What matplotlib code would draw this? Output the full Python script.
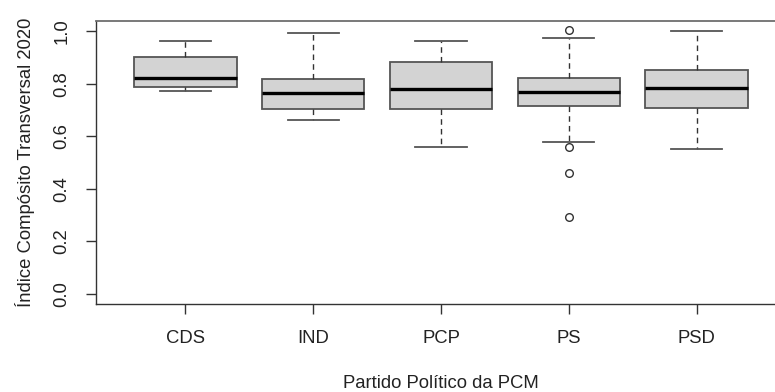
import matplotlib
matplotlib.use("Agg")
import matplotlib.pyplot as plt

plt.rcParams["font.family"] = ["Liberation Sans", "DejaVu Sans"]

# box statistics
parties = ["CDS", "IND", "PCP", "PS", "PSD"]
whisker_low = [0.775, 0.664, 0.561, 0.579, 0.552]
q1 = [0.788, 0.704, 0.704, 0.716, 0.709]
median = [0.823, 0.765, 0.780, 0.770, 0.784]
q3 = [0.904, 0.818, 0.882, 0.823, 0.855]
whisker_high = [0.962, 0.993, 0.962, 0.974, 1.000]
outliers = [[], [], [], [1.005, 0.561, 0.459, 0.294], []]

stats = []
for i, name in enumerate(parties):
    stats.append({
        "label": name,
        "whislo": whisker_low[i],
        "q1": q1[i],
        "med": median[i],
        "q3": q3[i],
        "whishi": whisker_high[i],
        "fliers": outliers[i],
    })

fig = plt.figure(figsize=(7.75, 3.92), dpi=100)
ax = fig.add_axes([96 / 775, (392 - 304.3) / 392, (786 - 96) / 775, (304.3 - 21) / 392])

edge = "#555555"
ax.bxp(
    stats,
    positions=range(1, len(parties) + 1),
    widths=0.8,
    patch_artist=True,
    boxprops=dict(facecolor="#d3d3d3", edgecolor=edge, linewidth=1.3),
    medianprops=dict(color="black", linewidth=2.4, solid_capstyle="butt"),
    whiskerprops=dict(color="#333333", linewidth=1.0, linestyle=(0, (4, 3))),
    capprops=dict(color=edge, linewidth=1.3),
    capwidths=0.4,
    flierprops=dict(marker="o", markersize=5.5, markerfacecolor="white",
                    markeredgecolor="#333333", markeredgewidth=1.0),
)

ax.set_xlim(0.3, 5.7)
ax.set_ylim(-0.04, 1.04)
ax.set_yticks([0.0, 0.2, 0.4, 0.6, 0.8, 1.0])
ax.set_yticklabels(["0.0", "0.2", "0.4", "0.6", "0.8", "1.0"], rotation=90, va="center")
ax.set_xticks(range(1, len(parties) + 1))
ax.set_xticklabels(parties)

ax.tick_params(axis="both", direction="out", length=7.5, width=1.0, color="#333333",
               labelsize=13.3, labelcolor="#222222")
ax.tick_params(axis="y", pad=11)
ax.tick_params(axis="x", pad=11)

for side in ["left", "bottom"]:
    ax.spines[side].set_color("#333333")
    ax.spines[side].set_linewidth(1.0)
ax.spines["top"].set_color("#6e6e6e")
ax.spines["top"].set_linewidth(1.3)
ax.spines["right"].set_visible(False)

ax.set_xlabel("Partido Político da PCM", fontsize=13.3, color="#222222", labelpad=20)
ax.set_ylabel("Índice Compósito Transversal 2020", fontsize=13.3, color="#222222", labelpad=13)

fig.savefig("out.png", dpi=100)
